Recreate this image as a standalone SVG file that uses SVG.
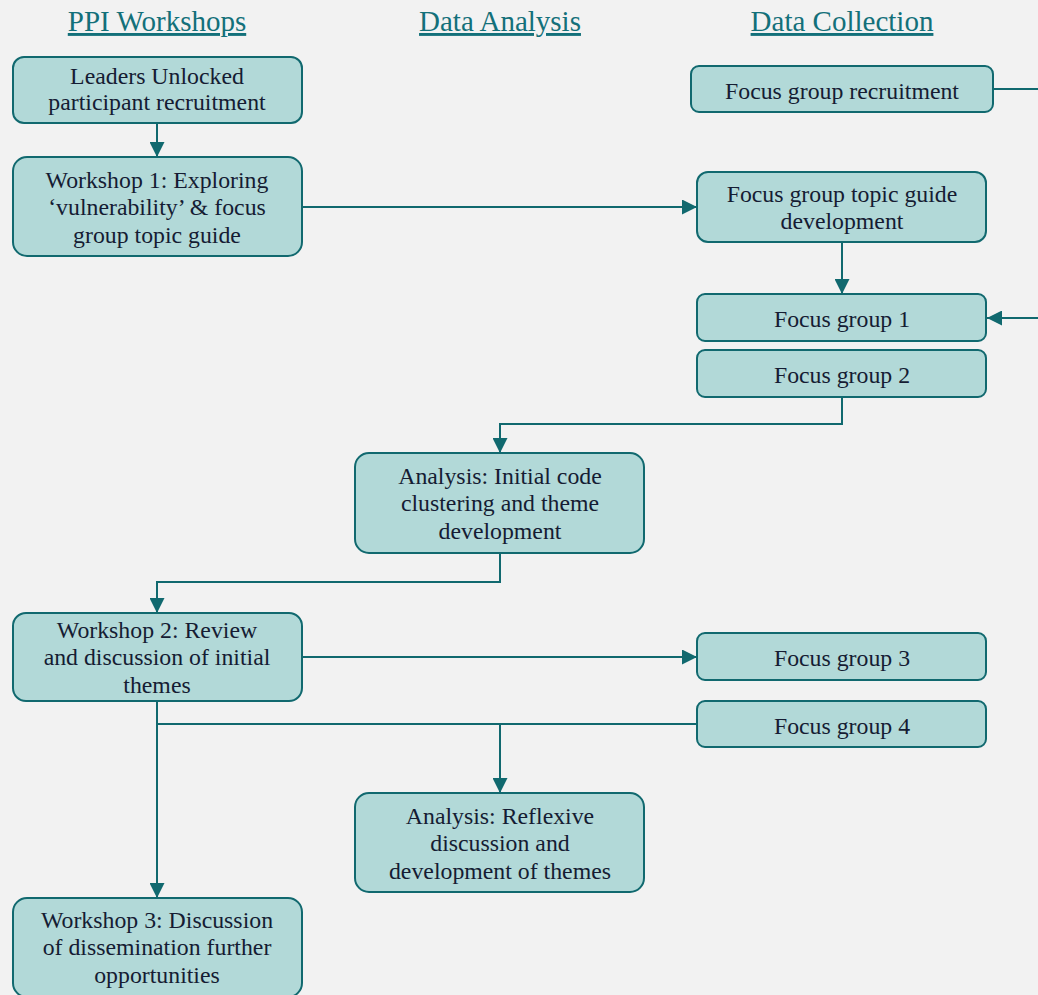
<svg xmlns="http://www.w3.org/2000/svg" width="1038" height="995" viewBox="0 0 1038 995">
  <style>
    .hdr { font-family: "Liberation Serif", Tinos, "Times New Roman", "DejaVu Serif", serif; font-size: 29px; fill: #13707a; text-anchor: middle; text-decoration: underline; }
    .box { fill: #b2d9d8; stroke: #11696f; stroke-width: 2; }
    .lbl { font-family: "Liberation Serif", Tinos, "Times New Roman", "DejaVu Serif", serif; font-size: 23.8px; fill: #151c33; text-anchor: middle; }
    .edge { fill: none; stroke: #11696f; stroke-width: 2; }
  </style>
  <defs>
    <marker id="arrow" markerUnits="userSpaceOnUse" markerWidth="15" markerHeight="15" refX="15" refY="7.5" orient="auto">
      <path d="M0,0 L15,7.5 L0,15 z" fill="#11696f"/>
    </marker>
  </defs>

  <rect width="1038" height="995" fill="#f2f2f2"/>

  <!-- column headings -->
  <g id="headings">
    <text class="hdr" x="157" y="31">PPI Workshops</text>
    <text class="hdr" x="500" y="31">Data Analysis</text>
    <text class="hdr" x="842" y="31">Data Collection</text>
  </g>

  <!-- connectors -->
  <g id="connectors">
    <path class="edge" d="M157,123 V157" marker-end="url(#arrow)"/>
    <path class="edge" d="M302,207 H697" marker-end="url(#arrow)"/>
    <path class="edge" d="M842,242 V294" marker-end="url(#arrow)"/>
    <path class="edge" d="M993,89 H1050 V318 H987" marker-end="url(#arrow)"/>
    <path class="edge" d="M842,397 V424 H500 V453" marker-end="url(#arrow)"/>
    <path class="edge" d="M500,553 V582 H157 V613" marker-end="url(#arrow)"/>
    <path class="edge" d="M302,657 H697" marker-end="url(#arrow)"/>
    <path class="edge" d="M157,701 V898" marker-end="url(#arrow)"/>
    <path class="edge" d="M157,724 H697"/>
    <path class="edge" d="M500,724 V793" marker-end="url(#arrow)"/>
  </g>

  <g id="leaders-recruitment">
    <rect class="box" x="13" y="57" width="289" height="66" rx="11"/>
    <text class="lbl" x="157" y="84">Leaders Unlocked</text>
    <text class="lbl" x="157" y="110">participant recruitment</text>
  </g>

  <g id="workshop-1">
    <rect class="box" x="13" y="157" width="289" height="99" rx="14"/>
    <text class="lbl" x="157" y="188">Workshop 1: Exploring</text>
    <text class="lbl" x="157" y="215">‘vulnerability’ &amp; focus</text>
    <text class="lbl" x="157" y="243">group topic guide</text>
  </g>

  <g id="fg-recruitment">
    <rect class="box" x="691" y="66" width="302" height="46" rx="8"/>
    <text class="lbl" x="842" y="99">Focus group recruitment</text>
  </g>

  <g id="topic-guide">
    <rect class="box" x="697" y="172" width="289" height="70" rx="11"/>
    <text class="lbl" x="842" y="202">Focus group topic guide</text>
    <text class="lbl" x="842" y="229">development</text>
  </g>

  <g id="fg-1">
    <rect class="box" x="697" y="294" width="289" height="47" rx="8"/>
    <text class="lbl" x="842" y="327">Focus group 1</text>
  </g>

  <g id="fg-2">
    <rect class="box" x="697" y="350" width="289" height="47" rx="8"/>
    <text class="lbl" x="842" y="383">Focus group 2</text>
  </g>

  <g id="analysis-initial">
    <rect class="box" x="355" y="453" width="289" height="100" rx="14"/>
    <text class="lbl" x="500" y="484">Analysis: Initial code</text>
    <text class="lbl" x="500" y="511">clustering and theme</text>
    <text class="lbl" x="500" y="539">development</text>
  </g>

  <g id="workshop-2">
    <rect class="box" x="13" y="613" width="289" height="88" rx="13"/>
    <text class="lbl" x="157" y="638">Workshop 2: Review</text>
    <text class="lbl" x="157" y="665">and discussion of initial</text>
    <text class="lbl" x="157" y="693">themes</text>
  </g>

  <g id="fg-3">
    <rect class="box" x="697" y="633" width="289" height="47" rx="8"/>
    <text class="lbl" x="842" y="666">Focus group 3</text>
  </g>

  <g id="fg-4">
    <rect class="box" x="697" y="701" width="289" height="46" rx="8"/>
    <text class="lbl" x="842" y="734">Focus group 4</text>
  </g>

  <g id="analysis-reflexive">
    <rect class="box" x="355" y="793" width="289" height="99" rx="14"/>
    <text class="lbl" x="500" y="824">Analysis: Reflexive</text>
    <text class="lbl" x="500" y="851">discussion and</text>
    <text class="lbl" x="500" y="879">development of themes</text>
  </g>

  <g id="workshop-3">
    <rect class="box" x="13" y="898" width="289" height="99" rx="14"/>
    <text class="lbl" x="157" y="928">Workshop 3: Discussion</text>
    <text class="lbl" x="157" y="955">of dissemination further</text>
    <text class="lbl" x="157" y="983">opportunities</text>
  </g>
</svg>
